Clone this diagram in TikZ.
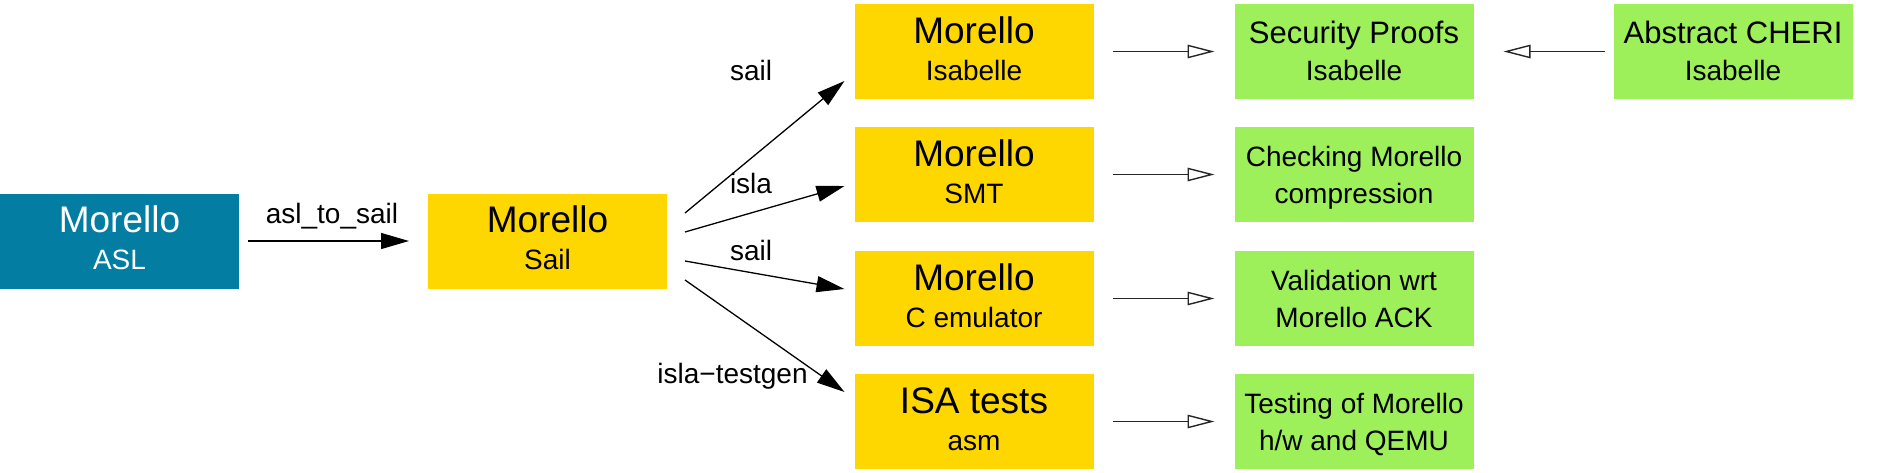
\documentclass[tikz,border=0pt]{standalone}
\usepackage{fontspec}
\setmainfont{Liberation Sans}
\usetikzlibrary{arrows.meta,calc}
\definecolor{aslblue}{HTML}{037EA2}
\definecolor{ygold}{HTML}{FFD700}
\definecolor{lgreen}{HTML}{9EF05A}
\definecolor{harrow}{HTML}{262626}
\begin{document}
\begin{tikzpicture}[x=1pt,y=-1pt,
  box/.style={minimum width=239pt, minimum height=95pt, inner sep=0pt, outer sep=0pt},
  bbox/.style={box, fill=aslblue},
  ybox/.style={box, fill=ygold},
  gbox/.style={box, fill=lgreen},
  big/.style={font=\fontsize{37}{44}\selectfont, anchor=base, inner sep=0pt},
  small/.style={font=\fontsize{28}{34}\selectfont, anchor=base, inner sep=0pt},
  mid/.style={font=\fontsize{31}{37}\selectfont, anchor=base, inner sep=0pt},
  elabel/.style={font=\fontsize{28}{34}\selectfont, anchor=base, inner sep=0pt},
  edge/.style={line width=1.3pt, -{Triangle[length=28pt,width=16pt]}},
  hedge/.style={line width=1.4pt, draw=harrow, -{Triangle[open,length=27pt,width=13.5pt,fill=white]}},
]
\useasboundingbox (0,0) rectangle (1879,472);

% left boxes
\node[bbox] (asl) at (119.5,241) {};
\node[big,text=white] (aslT) at (119.5,232) {Morello};
\node[small,text=white] (aslS) at (119.5,269) {ASL};

\node[ybox] (sail) at (547.5,241) {};
\node[big] (sailT) at (547.5,232) {Morello};
\node[small] (sailS) at (547.5,269) {Sail};

% yellow column
\node[ybox] (isab) at (974,51.5) {};
\node[big] (isabT) at (974,43) {Morello};
\node[small] (isabS) at (974,80) {Isabelle};

\node[ybox] (smt) at (974,174.5) {};
\node[big] (smtT) at (974,166) {Morello};
\node[small] (smtS) at (974,203) {SMT};

\node[ybox] (cemu) at (974,298.5) {};
\node[big] (cemuT) at (974,290) {Morello};
\node[small] (cemuS) at (974,327) {C emulator};

\node[ybox] (isa) at (974,421.5) {};
\node[big] (isaT) at (974,413) {ISA tests};
\node[small] (isaS) at (974,450) {asm};

% green column
\node[gbox] (sec) at (1354,51.5) {};
\node[mid] (secT) at (1354,43) {Security Proofs};
\node[small] (secS) at (1354,80) {Isabelle};

\node[gbox] (chk) at (1354,174.5) {};
\node[small] (chkT) at (1354,166) {Checking Morello};
\node[small] (chkS) at (1354,203) {compression};

\node[gbox] (val) at (1354,298.5) {};
\node[small] (valT) at (1354,290) {Validation wrt};
\node[small] (valS) at (1354,327) {Morello ACK};

\node[gbox] (tst) at (1354,421.5) {};
\node[small] (tstT) at (1354,413) {Testing of Morello};
\node[small] (tstS) at (1354,450) {h/w and QEMU};

\node[gbox] (abs) at (1733,51.5) {};
\node[mid] (absT) at (1733,43) {Abstract CHERI};
\node[small] (absS) at (1733,80) {Isabelle};

% edges
\draw[edge, shorten <=9pt, shorten >=19pt] (asl.east) -- (sail.west);
\node[elabel] (l0) at (332,223) {asl\_to\_sail};

\draw[edge] ($(sail.east)+(18,-28)$) -- ($(isab.west)+(-10,29.5)$);
\draw[edge] ($(sail.east)+(18,-9)$) -- ($(smt.west)+(-10,11.5)$);
\draw[edge] ($(sail.east)+(18,20)$) -- ($(cemu.west)+(-10,-9.5)$);
\draw[edge] ($(sail.east)+(18,39)$) -- ($(isa.west)+(-10,-29.5)$);
\node[elabel] (l1) at (751,80) {sail};
\node[elabel] (l2) at (751,193) {isla};
\node[elabel] (l3) at (751,260) {sail};
\node[elabel] (l4) at (732.5,383) {isla−testgen};

\draw[hedge, shorten <=19pt, shorten >=20pt] (isab.east) -- (sec.west);
\draw[hedge, shorten <=19pt, shorten >=20pt] (smt.east) -- (chk.west);
\draw[hedge, shorten <=19pt, shorten >=20pt] (cemu.east) -- (val.west);
\draw[hedge, shorten <=19pt, shorten >=20pt] (isa.east) -- (tst.west);
\draw[hedge, shorten <=9pt, shorten >=30pt] (abs.west) -- (sec.east);
\end{tikzpicture}
\end{document}
